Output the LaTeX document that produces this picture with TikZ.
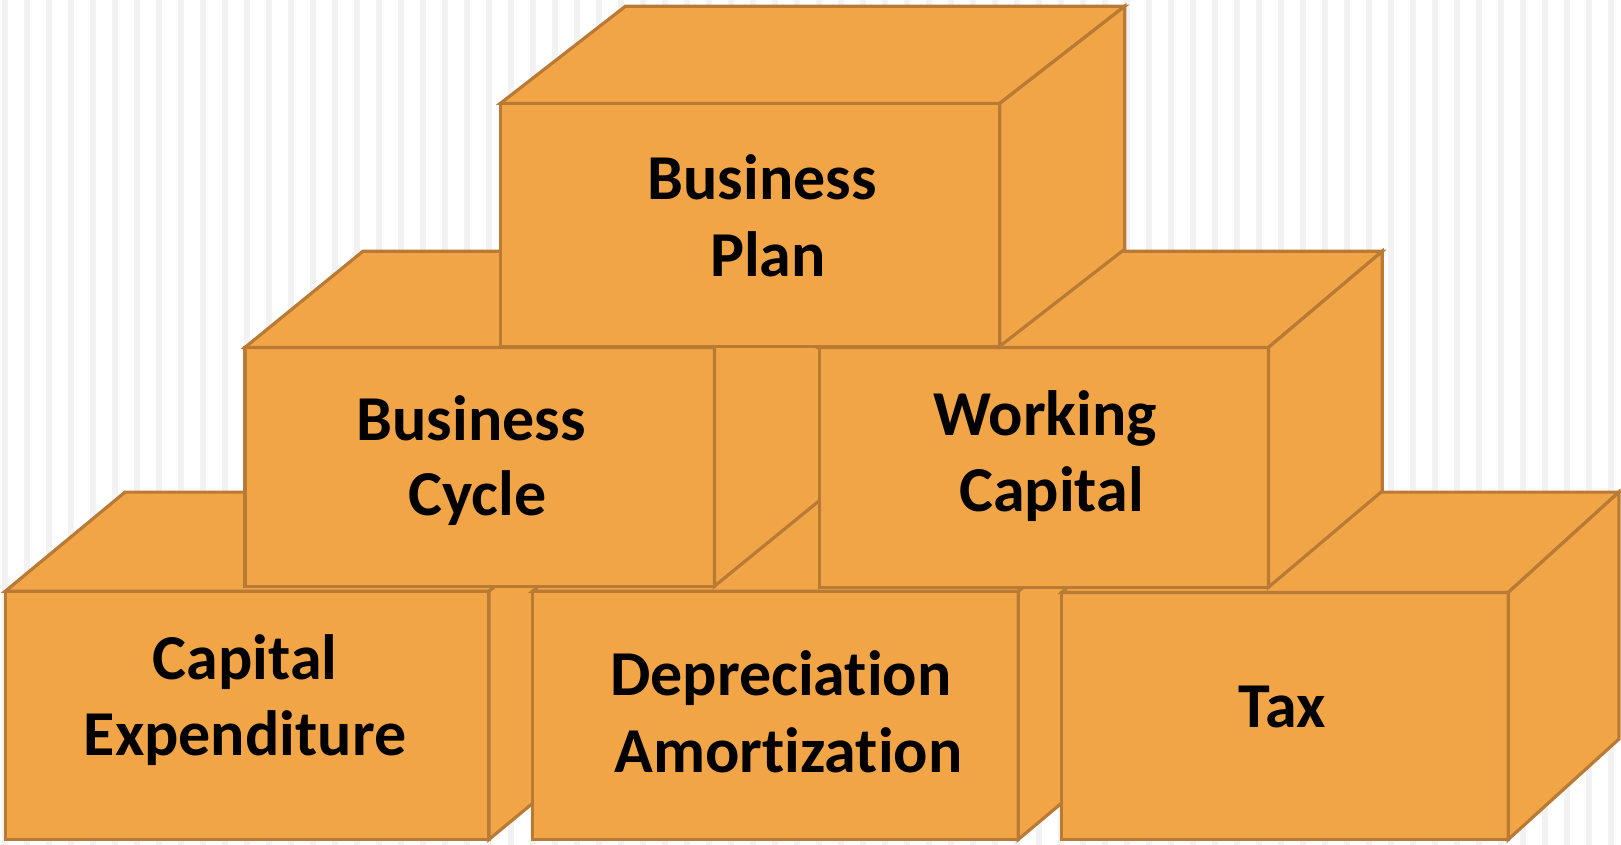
\documentclass[tikz,border=0pt]{standalone}
\usepackage{fontspec}
\setmainfont{Carlito}[Ligatures={TeX,NoCommon}]
\definecolor{boxfill}{RGB}{242,165,70}
\definecolor{boxline}{RGB}{185,122,54}
\definecolor{stripe}{RGB}{242,242,242}
\newcommand\mycube[7]{%
  \node[front, anchor=north west, minimum width={(#4-#2)*0.5pt}, minimum height={(#5-#3)*0.5pt}] (#1) at (#2,#3) {};
  \draw[face] (#1.north west) -- ++(#6,-#7) -- ++({#4-#2},0) -- (#1.north east) -- cycle;
  \draw[face] (#1.north east) -- ++(#6,-#7) -- ++(0,{#5-#3}) -- (#1.south east) -- cycle;
}
\begin{document}
\begin{tikzpicture}[x=0.5pt,y=-0.5pt,
  face/.style={fill=boxfill,draw=boxline,line width=1.6pt,line join=miter},
  front/.style={face,rectangle,inner sep=0pt,outer sep=0pt},
  boxtext/.style={font=\fontsize{32}{38}\selectfont\bfseries,anchor=base,inner sep=0pt}]
\useasboundingbox (0,0) rectangle (1621,845);
\fill[white] (0,0) rectangle (1621,845);
\foreach \i in {0,...,73} \fill[stripe] ({2+22*\i},0) rectangle ({8+22*\i},845);
% bottom row
\mycube{ce}{5.2}{591.3}{489}{839.4}{119.9}{99.2}
\mycube{dep}{532.4}{591.3}{1018.3}{839.4}{118}{99}
\mycube{tax}{1061.7}{592.4}{1508.3}{839.4}{110.6}{100.3}
% middle row
\mycube{bc}{245}{347.4}{714.4}{586.2}{117.9}{96.1}
\mycube{wc}{819.8}{347.4}{1268.5}{587.2}{113.7}{96.1}
% top
\mycube{bp}{500.4}{103.4}{999.7}{346.3}{125.1}{97.2}
% texts
\node[boxtext] (bp1) at (762,199.5) {Business};
\node[boxtext] (bp2) at (768,277) {Plan};
\node[boxtext] (bc1) at (471,440.4) {Business};
\node[boxtext] (bc2) at (477.6,515.9) {Cycle};
\node[boxtext] (wc1) at (1045.2,435.2) {Working};
\node[boxtext] (wc2) at (1051.4,511.7) {Capital};
\node[boxtext] (ce1) at (245,679.2) {Capital};
\node[boxtext] (ce2) at (245,755.7) {Expenditure};
\node[boxtext] (dep1) at (781,695.7) {Depreciation};
\node[boxtext] (dep2) at (788.3,772.2) {Amortization};
\node[boxtext] (tax1) at (1282.4,727.8) {Tax};
\end{tikzpicture}
\end{document}
